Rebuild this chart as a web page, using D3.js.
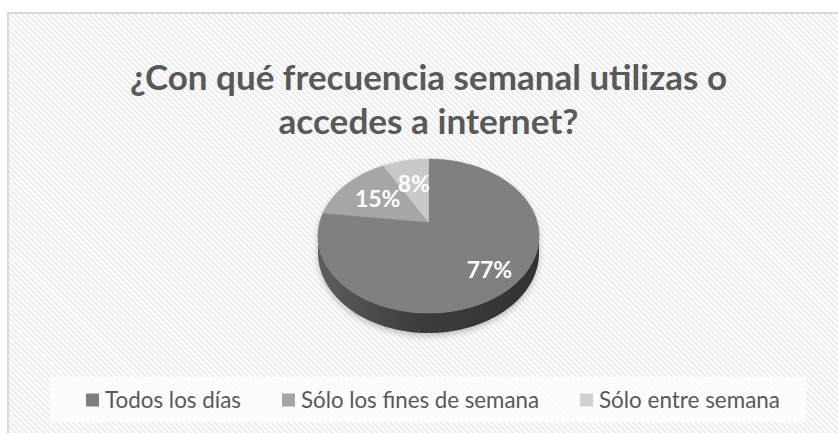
<!DOCTYPE html>
<html><head><meta charset="utf-8">
<script src="https://cdn.jsdelivr.net/npm/d3@7"></script>
<style>body{margin:0;background:#fff;overflow:hidden}</style>
</head><body>
<svg id="chart" width="838" height="433"></svg>
<script>
// ---- data ----
const categories = ["Todos los días", "Sólo los fines de semana", "Sólo entre semana"];
const values = [77, 15, 8];
const sliceColors = ["#808080", "#a6a6a6", "#c9c9c9"];
const legendColors = ["#7f7f7f", "#a5a5a5", "#d0d0d0"];
const titleLines = ["¿Con qué frecuencia semanal utilizas o", "accedes a internet?"];

// ---- layout ----
const W = 838, H = 433;
const FONT = "Lato, 'Open Sans', sans-serif";
const svg = d3.select("#chart");
const defs = svg.append("defs");

const hatch = defs.append("pattern").attr("id", "hatch")
  .attr("patternUnits", "userSpaceOnUse").attr("width", 4).attr("height", 4)
  .attr("patternTransform", "rotate(-45)");
hatch.append("rect").attr("width", 4).attr("height", 4).attr("fill", "#ffffff");
hatch.append("rect").attr("width", 2).attr("height", 4).attr("fill", "#ececec");

// chart area
svg.append("rect").attr("x", 8).attr("y", 13).attr("width", W + 20).attr("height", H + 20)
  .attr("fill", "url(#hatch)").attr("stroke", "#d9d9d9").attr("stroke-width", 2);

// title
const titleG = svg.append("g");
const titleWidths = [597, 300];
titleLines.forEach((t, i) => {
  titleG.append("text")
    .attr("x", 428.5).attr("y", 90 + i * 44)
    .attr("text-anchor", "middle")
    .attr("font-family", FONT).attr("font-weight", 700).attr("font-size", 35)
    .attr("fill", "#595959")
    .attr("textLength", titleWidths[i]).attr("lengthAdjust", "spacingAndGlyphs")
    .text(t);
});

// ---- 3D pie with perspective ----
const cx = 428.5, cy = 222;          // apex (pie centre) on screen
const A = 597.6, B = 409.5, D = 5.5, T = 90;
function proj(theta, r, bottom) {
  const u = r * Math.sin(theta), w = -r * Math.cos(theta);
  const q = D - w;
  return [cx + A * u / q, cy + (B * w + (bottom ? T : 0)) / q];
}
const pie = d3.pie().sort(null).value(d => d)(values);
const total = d3.sum(values);
const line = d3.line();
const N = 180;
function rimPts(a0, a1, bottom) {
  const n = Math.max(2, Math.ceil(N * (a1 - a0) / (2 * Math.PI)));
  return d3.range(n + 1).map(k => proj(a0 + (a1 - a0) * k / n, 1, bottom));
}
const thR = Math.acos(-1 / D), thL = 2 * Math.PI - thR;

// shadow
const shadowF = defs.append("filter").attr("id", "shadow").attr("x", "-20%").attr("y", "-20%").attr("width", "140%").attr("height", "140%");
shadowF.append("feGaussianBlur").attr("stdDeviation", 3);
const outline = rimPts(thR, thL, true).concat(rimPts(thL, thR + 2 * Math.PI, false));
svg.append("path").attr("d", line(outline) + "Z")
  .attr("transform", "translate(0,3)")
  .attr("fill", "#000").attr("opacity", 0.22).attr("filter", "url(#shadow)");

// side gradient
const pL = proj(thL, 1, false), pR = proj(thR, 1, false);
const sg = defs.append("linearGradient").attr("id", "sideGrad")
  .attr("gradientUnits", "userSpaceOnUse")
  .attr("x1", pL[0]).attr("x2", pR[0]).attr("y1", 0).attr("y2", 0);
sg.append("stop").attr("offset", "0%").attr("stop-color", "#5e5e5e");
sg.append("stop").attr("offset", "45%").attr("stop-color", "#3c3c3c");
sg.append("stop").attr("offset", "100%").attr("stop-color", "#323232");

pie.forEach((d, i) => {
  const a0 = Math.max(d.startAngle, thR), a1 = Math.min(d.endAngle, thL);
  if (a1 > a0) {
    const pts = rimPts(a0, a1, false).concat(rimPts(a0, a1, true).reverse());
    svg.append("path").attr("d", line(pts) + "Z")
      .attr("fill", i === 0 ? "url(#sideGrad)" : d3.color(sliceColors[i]).darker(1.5));
  }
});

// top faces
pie.forEach((d, i) => {
  const pts = [[cx, cy]].concat(rimPts(d.startAngle, d.endAngle, false));
  svg.append("path").attr("d", line(pts) + "Z")
    .attr("fill", sliceColors[i])
    .attr("stroke", sliceColors[i]).attr("stroke-width", 0.6);
});

// labels
const fmt = d3.format(".0%");
pie.forEach((d, i) => {
  const mid = (d.startAngle + d.endAngle) / 2;
  const r = d.value / total > 0.5 ? 0.76 : 0.6;
  const p = proj(mid, r, false);
  svg.append("text").attr("x", p[0]).attr("y", p[1])
    .attr("text-anchor", "middle").attr("dominant-baseline", "central")
    .attr("font-family", FONT).attr("font-weight", 700).attr("font-size", 23)
    .attr("fill", "#ffffff")
    .text(fmt(d.value / total));
});

// ---- legend ----
svg.append("rect").attr("x", 50).attr("y", 377).attr("width", 756).attr("height", 45)
  .attr("fill", "#ffffff").attr("opacity", 0.7);
const legendTextW = [136, 238, 181];
const sq = 13, gapT = 6, gapItem = 41;
const totalW = d3.sum(legendTextW) + categories.length * (sq + gapT) + (categories.length - 1) * gapItem;
let lx = 433 - totalW / 2;
categories.forEach((c, i) => {
  svg.append("rect").attr("x", lx).attr("y", 393.5).attr("width", sq).attr("height", sq)
    .attr("fill", legendColors[i]);
  svg.append("text").attr("x", lx + sq + gapT).attr("y", 407.5)
    .attr("font-family", FONT).attr("font-size", 23).attr("fill", "#595959")
    .attr("textLength", legendTextW[i]).attr("lengthAdjust", "spacingAndGlyphs")
    .text(c);
  lx += sq + gapT + legendTextW[i] + gapItem;
});
</script>
</body></html>
